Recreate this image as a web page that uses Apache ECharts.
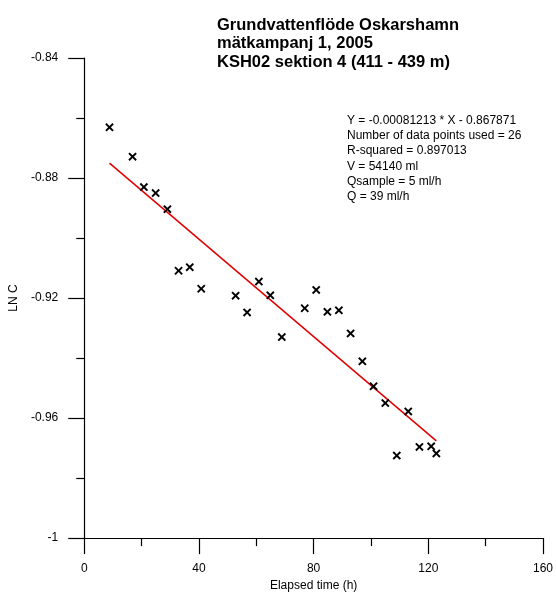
<!DOCTYPE html>
<html>
<head>
<meta charset="utf-8">
<script src="https://cdn.jsdelivr.net/npm/echarts@6/dist/echarts.min.js"></script>
<style>
html,body{margin:0;padding:0;background:#fff;}
#c{width:556px;height:597px;}
</style>
</head>
<body>
<div id="c"></div>
<script>
// ---- data ----
var timeH = [8.8, 16.85, 20.8, 24.9, 29.0, 32.9, 36.8, 40.8, 52.8, 56.8, 60.9, 64.9, 68.9,
             76.9, 80.9, 84.8, 88.8, 92.9, 97.0, 100.9, 105.0, 109.0, 113.0, 116.9, 121.0, 122.8];
var lnC = [-0.8631, -0.8729, -0.8830, -0.8850, -0.8904, -0.9109, -0.9097, -0.9169, -0.9192, -0.9248,
           -0.9145, -0.9191, -0.9330, -0.9234, -0.9173, -0.9246, -0.9241, -0.9318, -0.9411, -0.9494,
           -0.9550, -0.9725, -0.9578, -0.9696, -0.9694, -0.9718];
var fitSlope = -0.00081213;
var fitIntercept = -0.867871;
var xTicks = [0, 40, 80, 120, 160];
var yTicks = [-1, -0.96, -0.92, -0.88, -0.84];
var titleLines = ['Grundvattenflöde Oskarshamn', 'mätkampanj 1, 2005', 'KSH02 sektion 4 (411 - 439 m)'];
var infoLines = ['Y = -0.00081213 * X - 0.867871', 'Number of data points used = 26',
                 'R-squared = 0.897013', 'V = 54140 ml', 'Qsample = 5 ml/h', 'Q = 39 ml/h'];

var pts = timeH.map(function (t, i) { return [t, lnC[i]]; });
var xMin = Math.min.apply(null, timeH), xMax = Math.max.apply(null, timeH);
var fitLine = [[xMin, fitSlope * xMin + fitIntercept], [xMax, fitSlope * xMax + fitIntercept]];

var FONT = '"Liberation Sans", Arial, sans-serif';
var crossPath = 'path://M0,1.6L1.6,0L5,3.4L8.4,0L10,1.6L6.6,5L10,8.4L8.4,10L5,6.6L1.6,10L0,8.4L3.4,5Z';

var chart = echarts.init(document.getElementById('c'), null, {renderer: 'canvas'});
chart.setOption({
  animation: false,
  backgroundColor: '#fff',
  textStyle: {fontFamily: FONT},
  title: [{
    text: titleLines.join('\n'),
    left: 212, top: 11,
    textStyle: {fontFamily: FONT, fontSize: 16.5, fontWeight: 'bold', color: '#000', lineHeight: 18.5}
  }, {
    text: infoLines.join('\n'),
    left: 342, top: 108,
    textStyle: {fontFamily: FONT, fontSize: 12, fontWeight: 'normal', color: '#000', lineHeight: 15.2}
  }],
  grid: {left: 80.7, right: 10, top: 58, bottom: 56, containLabel: false},
  xAxis: {
    type: 'value', min: xTicks[0], max: xTicks[xTicks.length - 1], interval: xTicks[1] - xTicks[0],
    name: 'Elapsed time (h)', nameLocation: 'middle', nameGap: 40,
    nameTextStyle: {fontFamily: FONT, fontSize: 12, color: '#000'},
    axisLine: {show: true, onZero: false, lineStyle: {color: '#000', width: 1.2}},
    axisTick: {show: true, inside: false, length: 16, lineStyle: {color: '#000', width: 1.2}},
    minorTick: {show: true, splitNumber: 2, length: 8, lineStyle: {color: '#000', width: 1.2}},
    axisLabel: {margin: 25, fontFamily: FONT, fontSize: 12, color: '#000'},
    splitLine: {show: false}
  },
  yAxis: {
    type: 'value', min: yTicks[0], max: yTicks[yTicks.length - 1], interval: 0.04,
    name: 'LN C', nameLocation: 'middle', nameGap: 62, nameRotate: 90,
    nameTextStyle: {fontFamily: FONT, fontSize: 12, color: '#000'},
    axisLine: {show: true, onZero: false, lineStyle: {color: '#000', width: 1.2}},
    axisTick: {show: true, inside: false, length: 16, lineStyle: {color: '#000', width: 1.2}},
    minorTick: {show: true, splitNumber: 2, length: 8, lineStyle: {color: '#000', width: 1.2}},
    axisLabel: {margin: 26, fontFamily: FONT, fontSize: 12, color: '#000',
      formatter: function (v) { return String(Math.round(v * 100) / 100); }},
    splitLine: {show: false}
  },
  series: [{
    type: 'line', data: fitLine, showSymbol: false, symbol: 'none',
    lineStyle: {color: '#e00000', width: 1.5}, z: 2, silent: true
  }, {
    type: 'scatter', data: pts, symbol: crossPath, symbolSize: 8.5,
    itemStyle: {color: '#000', opacity: 1}, z: 3
  }]
});
</script>
</body>
</html>
